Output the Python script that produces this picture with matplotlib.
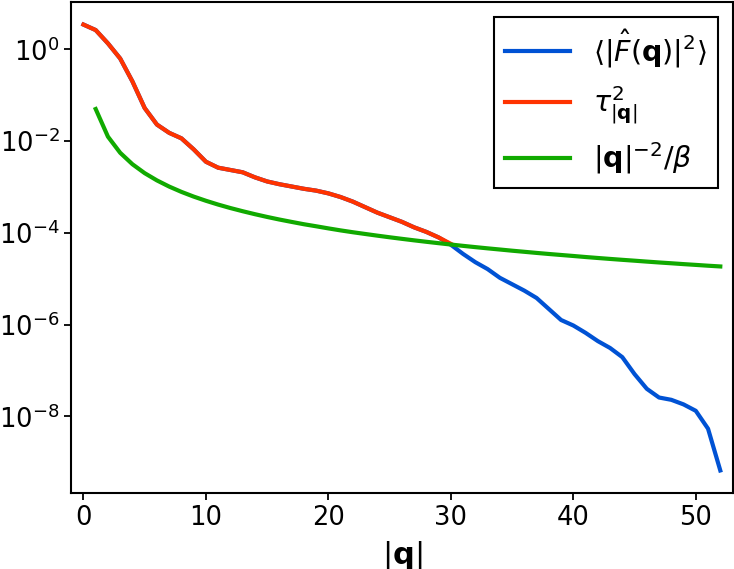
import matplotlib
matplotlib.use("Agg")
import matplotlib.pyplot as plt
from matplotlib.ticker import NullLocator, LogLocator

# |q| values
q_all = list(range(0, 53))
# log10 of <|F(q)|^2>
F2_log = [0.54, 0.42, 0.13, -0.20, -0.70, -1.28, -1.64, -1.82, -1.94, -2.18,
          -2.45, -2.58, -2.63, -2.68, -2.79, -2.88, -2.94, -2.99, -3.04, -3.08,
          -3.14, -3.22, -3.32, -3.44, -3.56, -3.66, -3.76, -3.88, -3.98, -4.10,
          -4.26, -4.46, -4.64, -4.79, -4.98, -5.12, -5.26, -5.42, -5.66, -5.90,
          -6.02, -6.18, -6.36, -6.51, -6.71, -7.08, -7.40, -7.59, -7.64, -7.74,
          -7.88, -8.27, -9.18]
F2 = [10 ** v for v in F2_log]

q_tau = list(range(0, 31))
tau2_log = [0.54, 0.42, 0.13, -0.20, -0.70, -1.28, -1.64, -1.82, -1.94, -2.18,
            -2.45, -2.58, -2.63, -2.68, -2.79, -2.88, -2.94, -2.99, -3.04, -3.08,
            -3.14, -3.22, -3.32, -3.44, -3.56, -3.66, -3.76, -3.88, -3.98, -4.10,
            -4.24]
tau2 = [10 ** v for v in tau2_log]

q_ref = list(range(1, 53))
ref = [5.0e-2, 1.25e-2, 5.56e-3, 3.13e-3, 2.0e-3, 1.39e-3, 1.02e-3, 7.81e-4, 6.17e-4, 5.0e-4,
       4.13e-4, 3.47e-4, 2.96e-4, 2.55e-4, 2.22e-4, 1.95e-4, 1.73e-4, 1.54e-4, 1.39e-4, 1.25e-4,
       1.13e-4, 1.03e-4, 9.45e-5, 8.68e-5, 8.0e-5, 7.40e-5, 6.86e-5, 6.38e-5, 5.95e-5, 5.56e-5,
       5.20e-5, 4.88e-5, 4.59e-5, 4.33e-5, 4.08e-5, 3.86e-5, 3.65e-5, 3.46e-5, 3.29e-5, 3.13e-5,
       2.97e-5, 2.83e-5, 2.70e-5, 2.58e-5, 2.47e-5, 2.36e-5, 2.26e-5, 2.17e-5, 2.08e-5, 2.0e-5,
       1.92e-5, 1.85e-5]

labels = [r'$\langle|\hat{F}(\mathbf{q})|^2\rangle$', r'$\tau^2_{|\mathbf{q}|}$',
          r'$|\mathbf{q}|^{-2}/\beta$']
colors = ['#0052d4', '#ff3300', '#11aa00']

plt.rcParams['mathtext.fontset'] = 'dejavusans'
fig = plt.figure(figsize=(7.34, 5.69), dpi=100)
ax = fig.add_axes([0.097, 0.134, 0.901, 0.862])

ax.plot(q_all, F2, color=colors[0], lw=3, label=labels[0])
ax.plot(q_tau, tau2, color=colors[1], lw=3, label=labels[1])
ax.plot(q_ref, ref, color=colors[2], lw=3, label=labels[2])

ax.set_yscale('log')
ax.set_xlim(-1, 53)
ax.yaxis.set_major_locator(LogLocator(base=10, subs=(1.0,), numticks=6))
ax.yaxis.set_minor_locator(NullLocator())
ax.set_xticks([0, 10, 20, 30, 40, 50])
ax.tick_params(labelsize=18.5, width=1.3, length=5)
for s in ax.spines.values():
    s.set_linewidth(1.5)
ax.set_xlabel(r'$|\mathbf{q}|$', fontsize=22, labelpad=6)

leg = ax.legend(loc='upper right', fontsize=20.5, fancybox=False, edgecolor='black',
                framealpha=1, handlelength=2.3, handletextpad=0.8, borderaxespad=0.5)
leg.get_frame().set_linewidth(1.5)

fig.savefig('out.png', dpi=100)
